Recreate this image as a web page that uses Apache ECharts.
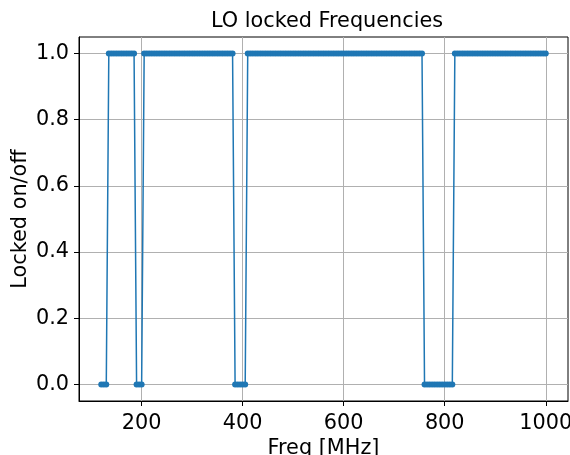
<!DOCTYPE html>
<html>
<head>
<meta charset="utf-8">
<script src="https://cdn.jsdelivr.net/npm/echarts@6/dist/echarts.min.js"></script>
<style>
    html, body {margin: 0; padding: 0; background: #fff;}
    .lo_chart {width: 570px; height: 455px;}
</style>
</head>
<body>
<div class="lo_chart"></div>
<script>
// swept frequencies [MHz]
var freqs = [
    120, 125, 130, 135, 140, 145, 150, 155, 160, 165,
    170, 175, 180, 185, 190, 195, 200, 205, 210, 215,
    220, 225, 230, 235, 240, 245, 250, 255, 260, 265,
    270, 275, 280, 285, 290, 295, 300, 305, 310, 315,
    320, 325, 330, 335, 340, 345, 350, 355, 360, 365,
    370, 375, 380, 385, 390, 395, 400, 405, 410, 415,
    420, 425, 430, 435, 440, 445, 450, 455, 460, 465,
    470, 475, 480, 485, 490, 495, 500, 505, 510, 515,
    520, 525, 530, 535, 540, 545, 550, 555, 560, 565,
    570, 575, 580, 585, 590, 595, 600, 605, 610, 615,
    620, 625, 630, 635, 640, 645, 650, 655, 660, 665,
    670, 675, 680, 685, 690, 695, 700, 705, 710, 715,
    720, 725, 730, 735, 740, 745, 750, 755, 760, 765,
    770, 775, 780, 785, 790, 795, 800, 805, 810, 815,
    820, 825, 830, 835, 840, 845, 850, 855, 860, 865,
    870, 875, 880, 885, 890, 895, 900, 905, 910, 915,
    920, 925, 930, 935, 940, 945, 950, 955, 960, 965,
    970, 975, 980, 985, 990, 995, 1000
];
// 1 = locked, 0 = not locked
var locked = [
    0, 0, 0, 1, 1, 1, 1, 1, 1, 1,
    1, 1, 1, 1, 0, 0, 0, 1, 1, 1,
    1, 1, 1, 1, 1, 1, 1, 1, 1, 1,
    1, 1, 1, 1, 1, 1, 1, 1, 1, 1,
    1, 1, 1, 1, 1, 1, 1, 1, 1, 1,
    1, 1, 1, 0, 0, 0, 0, 0, 1, 1,
    1, 1, 1, 1, 1, 1, 1, 1, 1, 1,
    1, 1, 1, 1, 1, 1, 1, 1, 1, 1,
    1, 1, 1, 1, 1, 1, 1, 1, 1, 1,
    1, 1, 1, 1, 1, 1, 1, 1, 1, 1,
    1, 1, 1, 1, 1, 1, 1, 1, 1, 1,
    1, 1, 1, 1, 1, 1, 1, 1, 1, 1,
    1, 1, 1, 1, 1, 1, 1, 1, 0, 0,
    0, 0, 0, 0, 0, 0, 0, 0, 0, 0,
    1, 1, 1, 1, 1, 1, 1, 1, 1, 1,
    1, 1, 1, 1, 1, 1, 1, 1, 1, 1,
    1, 1, 1, 1, 1, 1, 1, 1, 1, 1,
    1, 1, 1, 1, 1, 1, 1
];
var xTicks = [200, 400, 600, 800, 1000];
var yTicks = [0, 0.2, 0.4, 0.6, 0.8, 1.0];

var FONT = 'DejaVu Sans';
var FS = 20.8;
var BLUE = '#1f77b4';

function setLoOption(chart) {
    var points = [];
    for (var i = 0; i < freqs.length; i++) {
        points.push([freqs[i], locked[i]]);
    }
    chart.setOption({
        animation: false,
        title: {
            text: 'LO locked Frequencies',
            left: 322,
            top: 6,
            textAlign: 'center',
            textStyle: {fontFamily: FONT, fontSize: FS, fontWeight: 'normal', color: '#000'}
        },
        grid: {
            left: 79,
            right: 2,
            top: 37,
            bottom: 54,
            containLabel: false,
            outerBoundsMode: 'none',
            show: true,
            borderColor: '#000',
            borderWidth: 1
        },
        xAxis: {
            type: 'value',
            min: 76,
            max: 1044,
            name: 'Freq [MHz]',
            nameLocation: 'middle',
            nameGap: 37,
            nameMoveOverlap: false,
            nameTextStyle: {fontFamily: FONT, fontSize: FS, color: '#000'},
            axisLine: {show: true, onZero: false, lineStyle: {color: '#000', width: 1}},
            axisTick: {show: true, customValues: xTicks, length: 5, lineStyle: {color: '#000'}},
            axisLabel: {
                customValues: xTicks,
                margin: 12,
                fontFamily: FONT,
                fontSize: FS,
                color: '#000',
                formatter: function (v) { return String(v); }
            },
            splitLine: {show: true, customValues: xTicks, lineStyle: {color: '#b0b0b0', width: 1}}
        },
        yAxis: {
            type: 'value',
            min: -0.05,
            max: 1.05,
            name: 'Locked on/off',
            nameLocation: 'middle',
            nameGap: 48,
            nameMoveOverlap: false,
            nameTextStyle: {fontFamily: FONT, fontSize: FS, color: '#000'},
            axisLine: {show: true, onZero: false, lineStyle: {color: '#000', width: 1}},
            axisTick: {show: true, customValues: yTicks, length: 5, lineStyle: {color: '#000'}},
            axisLabel: {
                customValues: yTicks,
                margin: 10,
                fontFamily: FONT,
                fontSize: FS,
                color: '#000',
                formatter: function (v) { return v.toFixed(1); }
            },
            splitLine: {show: true, customValues: yTicks, lineStyle: {color: '#b0b0b0', width: 1}}
        },
        series: [{
            type: 'line',
            data: points,
            symbol: 'circle',
            symbolSize: 6,
            showAllSymbol: true,
            clip: false,
            lineStyle: {color: BLUE, width: 1.5},
            itemStyle: {color: BLUE, borderWidth: 0}
        }]
    });
}

var loChart = echarts.init(document.getElementsByClassName('lo_chart')[0]);
setLoOption(loChart);
</script>
</body>
</html>
